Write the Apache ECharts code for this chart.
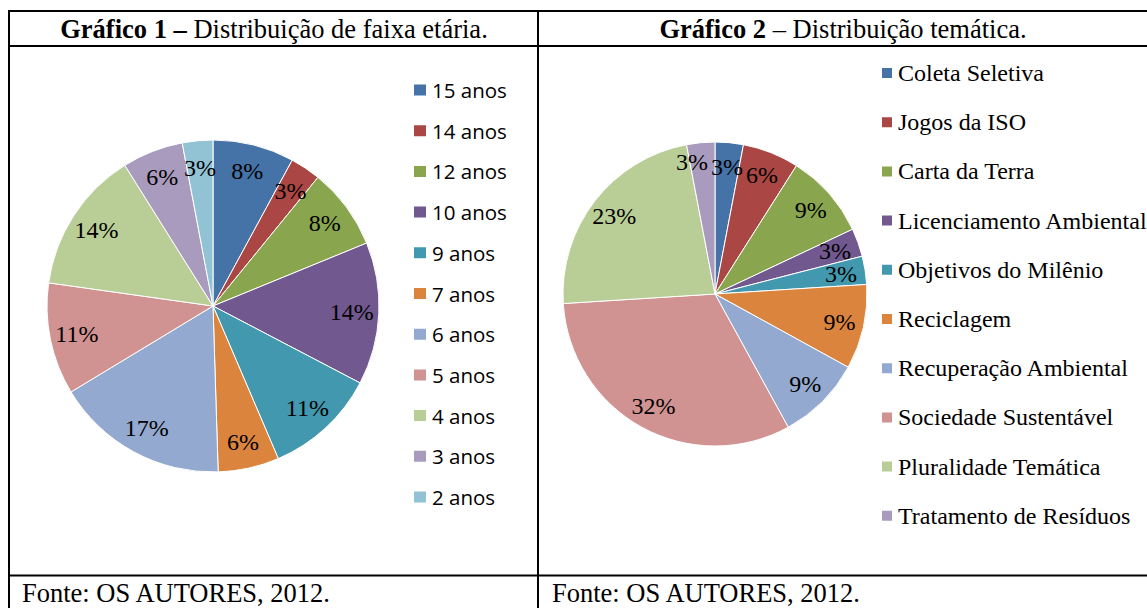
<!DOCTYPE html>
<html>
<head>
<meta charset="utf-8">
<title>Gráficos 1 e 2</title>
<script src="https://cdn.jsdelivr.net/npm/echarts@6/dist/echarts.min.js"></script>
<style>
    html, body {
        margin: 0;
        padding: 0;
        background: #ffffff;
    }
    #main {
        width: 1147px;
        height: 608px;
    }
</style>
</head>
<body>
<div id="main"></div>
<script>
// dados
var faixaNomes = ['15 anos', '14 anos', '12 anos', '10 anos', '9 anos', '7 anos', '6 anos', '5 anos', '4 anos', '3 anos', '2 anos'];
var faixaValores = [8, 3, 8, 14, 11, 6, 17, 11, 14, 6, 3];

var temaNomes = ['Coleta Seletiva', 'Jogos da ISO', 'Carta da Terra', 'Licenciamento Ambiental', 'Objetivos do Milênio',
    'Reciclagem', 'Recuperação Ambiental', 'Sociedade Sustentável', 'Pluralidade Temática', 'Tratamento de Resíduos'];
var temaValores = [3, 6, 9, 3, 3, 9, 9, 32, 23, 3];

// cores padrão do Excel 2007
var cores = ['#4572A7', '#AA4643', '#89A54E', '#71588F', '#4198AF', '#DB843D',
    '#93A9CF', '#D19392', '#B9CD96', '#A99BBD', '#91C3D5'];

var serif = '"Liberation Serif", "Times New Roman", serif';

// deslocamento do rótulo de algumas fatias pequenas (para não encavalar)
var deslocaRotulo = {'Tratamento de Resíduos': [-11, -5]};

function montaDados(nomes, valores) {
    var lista = [];
    nomes.forEach(function (nome, i) {
        var item = {name: nome, value: valores[i]};
        if (deslocaRotulo[nome]) {
            item.label = {offset: deslocaRotulo[nome]};
        }
        lista.push(item);
    });
    return lista;
}

// linha da tabela
function linha(x1, y1, x2, y2) {
    return {
        type: 'line',
        silent: true,
        shape: {x1: x1, y1: y1, x2: x2, y2: y2},
        style: {stroke: '#000', lineWidth: 2}
    };
}

function texto(x, y, conteudo, align) {
    return {
        type: 'text',
        silent: true,
        x: x,
        y: y,
        style: {
            text: conteudo,
            align: align,
            verticalAlign: 'middle',
            font: '26.5px ' + serif,
            fill: '#000',
            rich: {
                b: {fontFamily: serif, fontSize: 26.5, fontWeight: 'bold', fill: '#000'},
                n: {fontFamily: serif, fontSize: 26.5, fill: '#000'}
            }
        }
    };
}

// pizza colorida + uma pizza transparente só para posicionar os rótulos
function pizza(dados, centro, raio) {
    return [
        {
            type: 'pie',
            center: centro,
            radius: [0, raio],
            startAngle: 90,
            silent: true,
            label: {show: false},
            labelLine: {show: false},
            itemStyle: {borderColor: '#fff', borderWidth: 1},
            data: dados
        },
        {
            type: 'pie',
            center: centro,
            radius: [Math.round(raio * 0.64), raio],
            startAngle: 90,
            silent: true,
            avoidLabelOverlap: false,
            itemStyle: {color: 'rgba(0,0,0,0)'},
            label: {
                show: true,
                position: 'inside',
                formatter: '{c}%',
                fontFamily: serif,
                fontSize: 24,
                color: '#000'
            },
            labelLine: {show: false},
            labelLayout: {hideOverlap: false},
            emphasis: {disabled: true},
            data: dados
        }
    ];
}

var myChart = echarts.init(document.getElementById('main'), null, {renderer: 'svg'});

var option = {
    animation: false,
    color: cores,
    legend: [
        {
            orient: 'vertical',
            left: 412,
            top: 79.5,
            padding: 0,
            icon: 'rect',
            itemWidth: 14,
            itemHeight: 13,
            itemGap: 19.7,
            selectedMode: false,
            data: faixaNomes,
            textStyle: {fontFamily: '"Open Sans", sans-serif', fontSize: 20.5, lineHeight: 21, color: '#000'}
        },
        {
            orient: 'vertical',
            left: 880,
            top: 60,
            padding: 0,
            icon: 'rect',
            itemWidth: 12,
            itemHeight: 12,
            itemGap: 23.2,
            selectedMode: false,
            data: temaNomes,
            textStyle: {fontFamily: serif, fontSize: 24, lineHeight: 26, color: '#000'}
        }
    ],
    series: []
        .concat(pizza(montaDados(faixaNomes, faixaValores), [213, 306], 166))
        .concat(pizza(montaDados(temaNomes, temaValores), [715, 294], 152)),
    graphic: [
        // bordas da tabela
        linha(9, 11, 1147, 11),
        linha(9, 46, 1147, 46),
        linha(9, 575.5, 1147, 575.5),
        linha(9, 10, 9, 608),
        linha(538, 10, 538, 608),
        // títulos
        texto(274, 29, '{b|Gráfico 1 –}{n| Distribuição de faixa etária.}', 'center'),
        texto(843, 29, '{b|Gráfico 2}{n| – Distribuição temática.}', 'center'),
        // fontes
        texto(22, 593, 'Fonte: OS AUTORES, 2012.', 'left'),
        texto(552, 593, 'Fonte: OS AUTORES, 2012.', 'left')
    ]
};

myChart.setOption(option);
window.addEventListener('resize', function () {
    myChart.resize();
});
</script>
</body>
</html>
